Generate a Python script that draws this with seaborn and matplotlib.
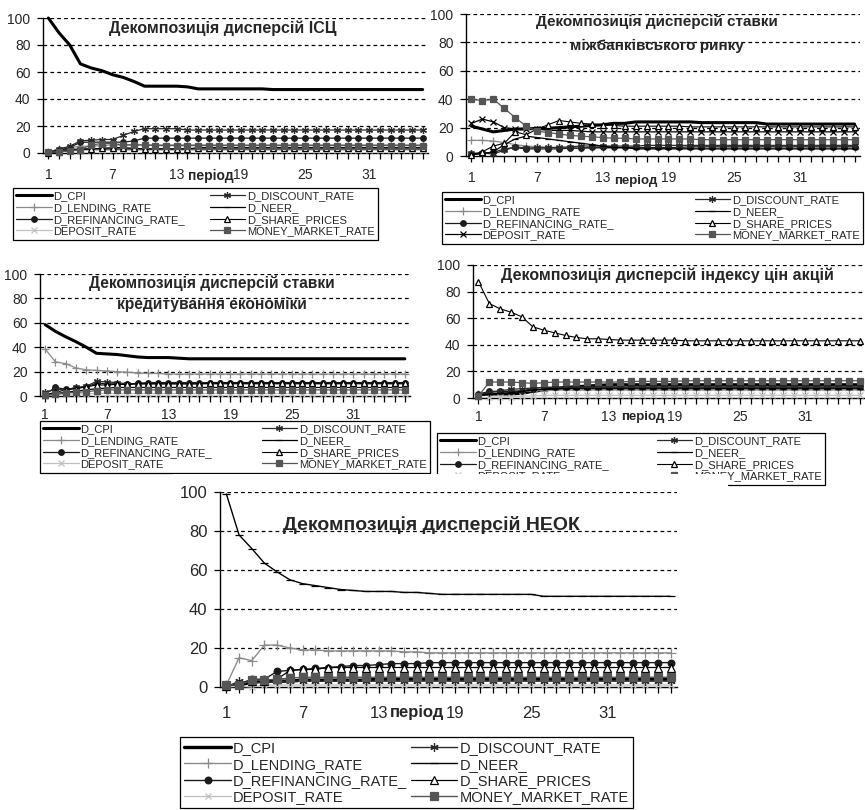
import numpy as np
import pandas as pd
import matplotlib
matplotlib.use("Agg")
import matplotlib.pyplot as plt
import seaborn as sns
from matplotlib.patches import Rectangle

# ---- data: variance decomposition, % (periods 1..36) ----
periods = list(range(1, 37))
xtick_labels = [1, 7, 13, 19, 25, 31]
ytick_values = [0, 20, 40, 60, 80, 100]

# order = legend order (column 1 then column 2)
series_names = ['D_CPI', 'D_LENDING_RATE', 'D_REFINANCING_RATE_', 'DEPOSIT_RATE',
                'D_DISCOUNT_RATE', 'D_NEER_', 'D_SHARE_PRICES', 'MONEY_MARKET_RATE']

# panel 1: ІСЦ
p1_cpi = [100, 89, 80, 66, 63, 61, 58, 56, 53, 49.5, 49.5, 49.5,
          49.5, 49, 47.5, 47.5, 47.5, 47.5, 47.5, 47.5, 47.5, 47, 47, 47,
          47, 47, 47, 47, 47, 47, 47, 47, 47, 47, 47, 47]
p1_lending = [0.5, 3, 4, 5, 5, 5.5, 6, 6, 6, 6, 6, 6,
              6, 6, 6, 6, 6, 6, 6, 6, 6, 6, 6, 6,
              6, 6, 6, 6, 6, 6, 6, 6, 6, 6, 6, 6]
p1_refin = [0.5, 2, 4, 8, 8, 8, 8, 8, 9, 11, 11, 11,
            11, 11, 11, 11, 11, 11, 11, 11, 11, 11, 11, 11,
            11, 11, 11, 11, 11, 11, 11, 11, 11, 11, 11, 11]
p1_deposit = [0, 1, 1.5, 2, 2, 2, 2, 2, 2, 2, 2, 2,
              2, 2, 2, 2, 2, 2, 2, 2, 2, 2, 2, 2,
              2, 2, 2, 2, 2, 2, 2, 2, 2, 2, 2, 2]
p1_discount = [0.5, 3, 5, 9, 9.5, 10, 10, 13, 16, 18, 18, 18,
               18, 17, 17, 17, 17, 17, 17, 17, 17, 17, 17, 17,
               17, 17, 17, 17, 17, 17, 17, 17, 17, 17, 17, 17]
p1_neer = [0, 2, 2.5, 3, 3, 3, 3, 3, 3, 3, 3, 3,
           3, 3, 3, 3, 3, 3, 3, 3, 3, 3, 3, 3,
           3, 3, 3, 3, 3, 3, 3, 3, 3, 3, 3, 3]
p1_share = [0, 1, 2, 2.5, 3, 3.5, 4, 4, 3.5, 3, 3, 3,
            3, 3, 4, 4, 4, 4, 4, 4, 4, 4, 4, 4,
            4, 4, 4, 4, 4, 4, 4, 4, 4, 4, 4, 4]
p1_money = [0.5, 1, 1.5, 2.5, 6, 7, 7, 6, 6, 6, 5.5, 5.5,
            5.5, 5.5, 5.5, 5.5, 5.5, 5.5, 5.5, 5.5, 5.5, 5.5, 5.5, 5.5,
            5.5, 5.5, 5.5, 5.5, 5.5, 5.5, 5.5, 5.5, 5.5, 5.5, 5.5, 5.5]

# panel 2: ставка міжбанківського ринку
p2_cpi = [21, 19, 17, 18, 19, 19, 19.5, 19.5, 20, 20.5, 21, 21.5,
          22, 23, 23, 24, 24, 24, 24, 24, 24, 23.5, 23.5, 23.5,
          23.5, 23.5, 23.5, 22.5, 22.5, 22.5, 22.5, 22.5, 22.5, 22.5, 22.5, 22.5]
p2_lending = [11, 11, 10.5, 9.5, 8, 7, 6.5, 6, 6, 6, 5.5, 5.5,
              5.5, 5.5, 5.5, 5.5, 5.5, 5.5, 5.5, 5.5, 5.5, 5.5, 5.5, 5.5,
              5.5, 5.5, 5.5, 5.5, 5.5, 5.5, 5.5, 5.5, 5.5, 5.5, 5.5, 5.5]
p2_refin = [1.5, 2, 2.5, 5, 6, 5, 5, 5, 5, 5.5, 5.5, 6,
            6, 6, 6, 6, 6, 6, 6, 6, 6.5, 6.5, 6.5, 6.5,
            6.5, 6.5, 6.5, 6.5, 6.5, 6.5, 6.5, 6.5, 6.5, 6.5, 6.5, 6.5]
p2_deposit = [23, 26, 24, 20, 19, 19, 19, 18, 18, 18, 17.5, 17,
              17, 17, 17, 17, 17, 17, 17, 17, 17, 17, 17, 17,
              17, 17, 17, 17, 17, 17, 17, 17, 17, 17, 17, 17]
p2_discount = [2, 2, 1.5, 4, 6.5, 5.5, 6, 6, 6, 6.5, 7, 7,
               7, 7, 7, 7, 7.5, 7.5, 7.5, 7.5, 7.5, 7.5, 7.5, 7.5,
               7.5, 7.5, 7.5, 7.5, 7.5, 7.5, 7.5, 7.5, 7.5, 7.5, 7.5, 7.5]
p2_neer = [1, 1.5, 3, 8, 12, 14, 13, 12, 11, 10, 9, 8,
           7, 6, 6, 5, 5, 5, 5, 5, 5, 5, 5, 5,
           5, 5, 5, 5, 5, 5, 5, 5, 5, 5, 5, 5]
p2_share = [0.5, 3, 7, 9, 17, 15, 19, 22, 25, 24, 23, 22.5,
            22, 21.5, 21, 21, 21, 21, 21, 21, 20.5, 20.5, 20.5, 20.5,
            20.5, 20.5, 20.5, 20.5, 20.5, 20.5, 20.5, 20.5, 20.5, 20.5, 20.5, 20.5]
p2_money = [40, 39, 40, 33.5, 27, 21, 17.5, 16.5, 15.5, 14.5, 14, 13.5,
            13, 12.5, 12.5, 12, 12, 12, 12, 12, 12, 11.5, 11.5, 11.5,
            11.5, 11.5, 11.5, 11.5, 11.5, 11.5, 11.5, 11.5, 11.5, 11.5, 11.5, 11.5]

# panel 3: ставка кредитування економіки
p3_cpi = [58.5, 53, 48.5, 44.5, 40, 35, 34.5, 34, 33, 32, 31.5, 31.5,
          31.5, 31, 30.5, 30.5, 30.5, 30.5, 30.5, 30.5, 30.5, 30.5, 30.5, 30.5,
          30.5, 30.5, 30.5, 30.5, 30.5, 30.5, 30.5, 30.5, 30.5, 30.5, 30.5, 30.5]
p3_lending = [38.5, 28, 26.5, 23, 21.5, 21, 20.5, 20, 19.5, 19, 18.5, 18.5,
              18, 18, 18, 18, 18, 18, 18, 18, 18, 18, 18, 18,
              18, 18, 18, 18, 18, 18, 18, 18, 18, 18, 18, 18]
p3_refin = [1.5, 7, 5.5, 6.5, 7.5, 10.5, 10, 10, 9.5, 10.5, 11, 11,
            11, 11, 11, 11, 11, 11, 11, 11, 11, 11, 11, 11,
            11, 11, 11, 11, 11, 11, 11, 11, 11, 11, 11, 11]
p3_deposit = [0, 1, 1.5, 1.5, 2, 2, 2, 2, 2, 2, 2, 2,
              2, 2, 2, 2, 2, 2, 2, 2, 2, 2, 2, 2,
              2, 2, 2, 2, 2, 2, 2, 2, 2, 2, 2, 2]
p3_discount = [3, 5.5, 5, 7, 8, 12, 11.5, 11, 10, 10, 10, 10,
               10, 10, 10, 10, 10, 10, 10, 10, 10, 10, 10, 10,
               10, 10, 10, 10, 10, 10, 10, 10, 10, 10, 10, 10]
p3_neer = [0.5, 2, 3, 4, 5, 6, 6.5, 7, 7, 7, 7, 7,
           7, 7, 7, 7, 7, 7, 7, 7, 7, 7, 7, 7,
           7, 7, 7, 7, 7, 7, 7, 7, 7, 7, 7, 7]
p3_share = [1, 3, 5, 6, 7.5, 9, 9, 9.5, 9.5, 10, 10, 10,
            10, 10, 10, 10, 10.5, 10.5, 10.5, 10.5, 10.5, 10.5, 10.5, 10.5,
            10.5, 10.5, 10.5, 10.5, 10.5, 10.5, 10.5, 10.5, 10.5, 10.5, 10.5, 10.5]
p3_money = [0.5, 1.5, 2.5, 3, 3.5, 4.5, 5, 5, 5, 5, 5, 5,
            5, 5, 5, 5, 5, 5, 5, 5, 5, 5, 5, 5,
            5, 5, 5, 5, 5, 5, 5, 5, 5, 5, 5, 5]

# panel 4: індекс цін акцій
p4_cpi = [2.5, 3, 3, 3, 3.5, 5, 6, 7, 8, 8.5, 9, 9.5,
          10, 10, 10, 10, 10, 10, 10, 10, 10, 10, 10, 10,
          10, 10, 10, 10, 10, 10, 10, 10, 10, 10, 10, 10]
p4_lending = [3, 4, 4.5, 5, 5, 5.5, 5.5, 6, 6, 6, 6, 6,
              6, 6, 6, 6, 6, 6, 6, 6, 6, 6, 6, 6,
              6, 6, 6, 6, 6, 6, 6, 6, 6, 6, 6, 6]
p4_refin = [3, 5, 5, 5, 5.5, 7, 8, 8, 8, 8.5, 8.5, 9,
            9, 9, 9, 9, 9, 9, 9, 9, 9, 9, 9, 9,
            9, 9, 9, 9, 9, 9, 9, 9, 9, 9, 9, 9]
p4_deposit = [0.5, 0.5, 1, 1, 1.5, 1.5, 2, 2, 2, 2, 2, 2,
              2, 2, 2, 2, 2, 2, 2, 2, 2, 2, 2, 2,
              2, 2, 2, 2, 2, 2, 2, 2, 2, 2, 2, 2]
p4_discount = [2.5, 4, 5.5, 6.5, 7, 7.5, 8, 8, 8, 8, 8, 8,
               8, 8, 8, 8, 8, 8, 8, 8, 8, 8, 8, 8,
               8, 8, 8, 8, 8, 8, 8, 8, 8, 8, 8, 8]
p4_neer = [2, 3, 3.5, 4, 5, 6, 6.5, 7, 7, 7, 7, 7,
           7, 7, 7, 7, 7, 7, 7, 7, 7, 7, 7, 7,
           7, 7, 7, 7, 7, 7, 7, 7, 7, 7, 7, 7]
p4_share = [87.5, 71, 67, 64.5, 61, 53.5, 51, 49, 47, 45.5, 44.5, 44.5,
            44, 43.5, 43.5, 43.5, 43.5, 43.5, 43.5, 43, 43, 43, 43, 43,
            43, 43, 43, 43, 43, 43, 43, 43, 43, 43, 43, 43]
p4_money = [1.5, 12, 12, 12, 11.5, 11, 11.5, 12, 12, 12, 12, 12,
            12, 12, 12.5, 12.5, 12.5, 12.5, 12.5, 13, 13, 13, 13, 13,
            13, 13, 13, 13, 13, 13, 13, 13, 13, 13, 13, 13]

# panel 5: НЕОК
p5_cpi = [0, 1, 2.5, 3, 3, 3, 3.5, 3.5, 3.5, 3.5, 3.5, 3.5,
          4, 4, 4, 4, 4, 4, 4, 4, 4, 4, 4, 4,
          4, 4, 4, 4, 4, 4, 4, 4, 4, 4, 4, 4]
p5_lending = [1, 15, 13.5, 21.5, 21.5, 20, 19, 19, 18.5, 18.5, 18.5, 18.5,
              18.5, 18.5, 18, 18, 17.5, 17.5, 17.5, 17.5, 17.5, 17.5, 17.5, 17.5,
              17.5, 17.5, 17.5, 17.5, 17.5, 17.5, 17.5, 17.5, 17.5, 17.5, 17.5, 17.5]
p5_refin = [0.5, 1.5, 4, 4, 8, 8.5, 9, 9.5, 10, 10.5, 11, 11,
            11.5, 12, 12, 12, 12.5, 12.5, 12.5, 12.5, 12.5, 12.5, 12.5, 12.5,
            12.5, 12.5, 12.5, 12.5, 12.5, 12.5, 12.5, 12.5, 12.5, 12.5, 12.5, 12.5]
p5_deposit = [0, 0.5, 0, 1, 1, 1, 1, 1, 1, 1, 1, 1,
              1, 1, 1, 1, 1, 1, 1, 1, 1, 1, 1, 1,
              1, 1, 1, 1, 1, 1, 1, 1, 1, 1, 1, 1]
p5_discount = [0, 3, 2, 2.5, 3, 3, 3, 3, 3, 3, 3, 3,
               3, 3, 3, 3, 3, 3, 3, 3, 3, 3, 3, 3,
               3, 3, 3, 3, 3, 3, 3, 3, 3, 3, 3, 3]
p5_neer = [99, 78, 71, 63.5, 59, 55, 53, 52, 51, 50, 49.5, 49,
           49, 49, 48.5, 48.5, 48, 47.5, 47.5, 47.5, 47.5, 47.5, 47.5, 47.5,
           47.5, 46.5, 46.5, 46.5, 46.5, 46.5, 46.5, 46.5, 46.5, 46.5, 46.5, 46.5]
p5_share = [0.5, 1.5, 3, 3, 4, 8.5, 9, 9, 10, 10, 10, 10,
            10, 10, 10, 10, 10, 10, 10, 10, 10, 10, 10, 10,
            10, 10, 10, 10, 10, 10, 10, 10, 10, 10, 10, 10]
p5_money = [1, 1, 3.5, 3.5, 4, 4.5, 5, 5, 5, 5, 5, 5,
            5, 5, 5, 5, 5, 5, 5, 5, 5, 5, 5, 5,
            5, 5, 5, 5, 5, 5, 5, 5, 5, 5, 5, 5]

titles = [
    ["Декомпозиція дисперсій ІСЦ"],
    ["Декомпозиція дисперсій ставки", "міжбанківського ринку"],
    ["Декомпозиція дисперсій ставки", "кредитування економіки"],
    ["Декомпозиція дисперсій індексу цін акцій"],
    ["Декомпозиція дисперсій НЕОК"],
]
panel_data = [
    [p1_cpi, p1_lending, p1_refin, p1_deposit, p1_discount, p1_neer, p1_share, p1_money],
    [p2_cpi, p2_lending, p2_refin, p2_deposit, p2_discount, p2_neer, p2_share, p2_money],
    [p3_cpi, p3_lending, p3_refin, p3_deposit, p3_discount, p3_neer, p3_share, p3_money],
    [p4_cpi, p4_lending, p4_refin, p4_deposit, p4_discount, p4_neer, p4_share, p4_money],
    [p5_cpi, p5_lending, p5_refin, p5_deposit, p5_discount, p5_neer, p5_share, p5_money],
]

# ---- styles ----
styles = {
    'D_CPI': dict(color='black', lw=2.2, marker=None),
    'D_LENDING_RATE': dict(color='#8a8a8a', lw=0.9, marker='+', ms=6, mfc='#8a8a8a'),
    'D_REFINANCING_RATE_': dict(color='#1a1a1a', lw=0.9, marker='o', ms=4, mfc='#1a1a1a'),
    'DEPOSIT_RATE': dict(color='#c0c0c0', lw=0.9, marker='x', ms=4, mfc='#c0c0c0'),
    'D_DISCOUNT_RATE': dict(color='#2a2a2a', lw=0.9, marker=(6, 2, 0), ms=5, mfc='#2a2a2a'),
    'D_NEER_': dict(color='black', lw=0.9, marker='_', ms=5, mfc='black'),
    'D_SHARE_PRICES': dict(color='black', lw=0.8, marker='^', ms=5, mfc='white'),
    'MONEY_MARKET_RATE': dict(color='#555555', lw=0.9, marker='s', ms=4.5, mfc='#555555'),
}

sns.set_style("ticks")
plt.rcParams['font.family'] = ['Liberation Sans', 'DejaVu Sans']

W, H = 865, 810
fig = plt.figure(figsize=(W / 100, H / 100), dpi=100)


def fx(x):
    return x / W


def fy(y):
    return 1 - y / H


# layout in pixels: axes box (left, top, right, bottom), title centre, xlabel centre, legend (left, top, width)
layouts = [
    dict(box=(43, 18, 428, 153), title_x=223, title_y=[28], tfs=11.5, xlab=(211, 176), xfs=10,
         leg=(13, 188, 365), lfs=8, fs=10, pad=6.5, scale=1.0),
    dict(box=(466, 14, 860, 156), title_x=657, title_y=[22, 46], tfs=11, xlab=(636, 181), xfs=9.5,
         leg=(442, 192, 421), lfs=8, fs=10, pad=6.5, scale=1.0),
    dict(box=(40, 274, 410, 396), title_x=212, title_y=[283, 305], tfs=11.2, xlab=None, xfs=10,
         leg=(40, 421, 390), lfs=8, fs=10, pad=4.5, scale=1.0),
    dict(box=(473, 265, 865, 398), title_x=667, title_y=[275], tfs=11.5, xlab=(643, 417), xfs=9.5,
         leg=(437, 433, 388), lfs=8, fs=10, pad=4.5, scale=1.0),
    dict(box=(220, 492, 677, 687), title_x=431, title_y=[525], tfs=14, xlab=(417, 713), xfs=12,
         leg=(180, 737, 453), lfs=10.5, fs=12, pad=10, scale=1.2),
]

for i, (lay, data, title) in enumerate(zip(layouts, panel_data, titles)):
    l, t, r, b = lay['box']
    ax = fig.add_axes([fx(l), fy(b), fx(r - l), (b - t) / H])
    ax.set_zorder(10 if i == 4 else 0)
    ax.patch.set_alpha(0)

    handles = []
    for name, vals in zip(series_names, data):
        st = dict(styles[name])
        if i == 1 and name == 'DEPOSIT_RATE':
            st['color'] = 'black'
            st['mfc'] = 'black'
        kw = dict(color=st['color'], linewidth=st['lw'] * (1.1 if i == 4 else 1.0))
        if st['marker'] is not None:
            kw.update(marker=st['marker'], markersize=st['ms'] * lay['scale'],
                      markerfacecolor=st['mfc'], markeredgecolor=st['color'],
                      markeredgewidth=0.9)
        sns.lineplot(x=periods, y=vals, ax=ax, clip_on=False, zorder=3, **kw)
        handles.append(ax.lines[-1])

    ax.set_xlim(0.5, 36.5)
    ax.set_ylim(0, 100)
    ax.set_yticks(ytick_values)
    ax.set_xticks(xtick_labels)
    ax.set_xticks(periods, minor=True)
    ax.set_xticklabels([str(v) for v in xtick_labels])
    ax.tick_params(axis='x', which='both', direction='out', length=4, width=0.9,
                   color='black', labelsize=lay['fs'], pad=lay['pad'])
    ax.tick_params(axis='y', direction='out', length=4, width=0.9, color='black',
                   labelsize=lay['fs'], pad=5)
    ax.set_xlabel('')
    ax.set_ylabel('')
    for y in ytick_values[1:]:
        ax.axhline(y, color='black', lw=0.9, ls=(0, (3, 2.5)), zorder=1)
    sns.despine(ax=ax)
    ax.spines['left'].set_color('black')
    ax.spines['bottom'].set_color('black')
    ax.spines['left'].set_linewidth(1.0)
    ax.spines['bottom'].set_linewidth(1.0)

    for line, ty in zip(title, lay['title_y']):
        ax.text(fx(lay['title_x']), fy(ty), line, transform=fig.transFigure,
                ha='center', va='center', fontsize=lay['tfs'], fontweight='bold', zorder=5)
    if lay['xlab'] is not None:
        ax.text(fx(lay['xlab'][0]), fy(lay['xlab'][1]), 'період', transform=fig.transFigure,
                ha='center', va='center', fontsize=lay['xfs'], fontweight='bold')

    lx, ltop, lw = lay['leg']
    leg = ax.legend(handles, series_names, ncol=2, loc='upper left',
                    bbox_to_anchor=(fx(lx), fy(ltop) - 0.2, fx(lw), 0.2),
                    bbox_transform=fig.transFigure, mode='expand', fontsize=lay['lfs'],
                    frameon=True, fancybox=False, edgecolor='black', framealpha=1,
                    borderpad=0.3, labelspacing=0.15, handlelength=3.2,
                    handletextpad=0.15, columnspacing=1.0, borderaxespad=0, numpoints=1)
    leg.get_frame().set_linewidth(0.9)

# white sheet under the bottom chart (covers the lower parts of the middle legends)
fig.add_artist(Rectangle((fx(173), 0), fx(728 - 173), fy(474), transform=fig.transFigure,
                         facecolor='white', edgecolor='none', zorder=5))

fig.savefig('out.png', dpi=100)
